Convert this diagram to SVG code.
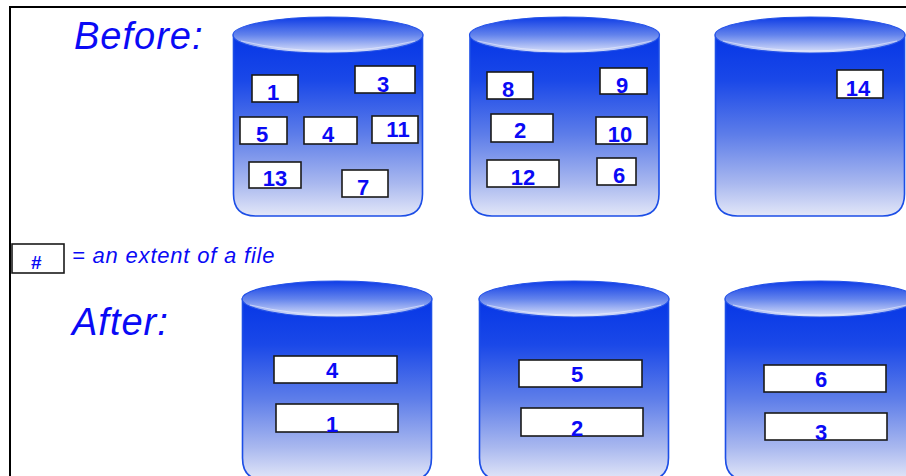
<svg xmlns="http://www.w3.org/2000/svg" xmlns:xlink="http://www.w3.org/1999/xlink" width="906" height="476" viewBox="0 0 906 476">
  <style>
    .title { font-family: "Liberation Sans", Arial, sans-serif; font-style: italic; font-size: 38px; letter-spacing: 1px; fill: #0a0af5; }
    .note { font-family: "Liberation Sans", Arial, sans-serif; font-style: italic; font-size: 22px; letter-spacing: 0.8px; fill: #0a0af5; }
    .num { font-family: "Liberation Sans", Arial, sans-serif; font-weight: bold; font-size: 22px; fill: #0a0af5; text-anchor: middle; }
    .hash { font-family: "Liberation Sans", Arial, sans-serif; font-weight: bold; font-style: italic; font-size: 19px; fill: #0a0af5; text-anchor: middle; }
    .ext { fill: #ffffff; stroke: #1a1a1a; stroke-width: 1.6; }
    .frame { fill: none; stroke: #000000; stroke-width: 2; }
  </style>
  <defs>
    <linearGradient id="bodyGrad" x1="0" y1="0" x2="0" y2="1">
      <stop offset="0" stop-color="#0636e6"/>
      <stop offset="0.25" stop-color="#1a48e8"/>
      <stop offset="0.55" stop-color="#5d7de9"/>
      <stop offset="0.82" stop-color="#a9b8ef"/>
      <stop offset="1" stop-color="#e3e7f8"/>
    </linearGradient>
    <linearGradient id="lidGrad" x1="0" y1="0" x2="0" y2="1">
      <stop offset="0" stop-color="#0e3ce6"/>
      <stop offset="0.5" stop-color="#6383ec"/>
      <stop offset="1" stop-color="#dfe5fa"/>
    </linearGradient>
    <!-- disk cylinder, 190 wide, lid centred at (95,18) -->
    <g id="disk">
      <path d="M0.5,18 L0.5,177 Q0.5,199 22.5,199 L167.5,199 Q189.5,199 189.5,177 L189.5,18 Z" fill="url(#bodyGrad)" stroke="#1c4ee6" stroke-width="1.6"/>
      <ellipse cx="95" cy="18" rx="95" ry="18" fill="url(#lidGrad)" stroke="#2452e8" stroke-width="1.2"/>
      <path d="M8,24 Q95,44 182,24" fill="none" stroke="#eef1ff" stroke-width="0.8" opacity="0.7"/>
    </g>
  </defs>

  <rect width="906" height="476" fill="#ffffff"/>

  <!-- frame -->
  <path class="frame" d="M10,480 L10,7 L910,7"/>

  <!-- headings -->
  <text class="title" x="74" y="49">Before:</text>
  <text class="title" x="72" y="335">After:</text>

  <!-- legend -->
  <g id="legend">
    <rect class="ext" x="12" y="244" width="52" height="29"/>
    <text class="hash" x="36" y="269">#</text>
    <text class="note" x="72" y="263">= an extent of a file</text>
  </g>

  <!-- disks before -->
  <g id="before-disk-1">
    <use xlink:href="#disk" href="#disk" transform="translate(233,17)"/>
    <rect class="ext" x="252" y="75" width="46" height="27"/><text class="num" x="273" y="100">1</text>
    <rect class="ext" x="355" y="66" width="60" height="27"/><text class="num" x="383" y="92">3</text>
    <rect class="ext" x="240" y="117" width="47" height="27"/><text class="num" x="262" y="142">5</text>
    <rect class="ext" x="304" y="117" width="53" height="27"/><text class="num" x="328" y="142">4</text>
    <rect class="ext" x="372" y="116" width="46" height="27"/><text class="num" x="398" y="137">11</text>
    <rect class="ext" x="249" y="162" width="52" height="26"/><text class="num" x="275" y="186">13</text>
    <rect class="ext" x="342" y="170" width="46" height="27"/><text class="num" x="363" y="195">7</text>
  </g>
  <g id="before-disk-2">
    <use xlink:href="#disk" href="#disk" transform="translate(469.5,17)"/>
    <rect class="ext" x="487" y="72" width="46" height="27"/><text class="num" x="508" y="97">8</text>
    <rect class="ext" x="600" y="68" width="47" height="26"/><text class="num" x="622" y="93">9</text>
    <rect class="ext" x="491" y="114" width="62" height="28"/><text class="num" x="520" y="138">2</text>
    <rect class="ext" x="596" y="117" width="51" height="27"/><text class="num" x="620" y="142">10</text>
    <rect class="ext" x="487" y="160" width="72" height="27"/><text class="num" x="523" y="185">12</text>
    <rect class="ext" x="597" y="158" width="39" height="27"/><text class="num" x="619" y="183">6</text>
  </g>
  <g id="before-disk-3">
    <use xlink:href="#disk" href="#disk" transform="translate(715,17)"/>
    <rect class="ext" x="837" y="70" width="46" height="28"/><text class="num" x="858" y="96">14</text>
  </g>

  <!-- disks after -->
  <g id="after-disk-1">
    <use xlink:href="#disk" href="#disk" transform="translate(242,281)"/>
    <rect class="ext" x="274" y="356" width="123" height="27"/><text class="num" x="332" y="378">4</text>
    <rect class="ext" x="276" y="404" width="122" height="28"/><text class="num" x="332" y="432">1</text>
  </g>
  <g id="after-disk-2">
    <use xlink:href="#disk" href="#disk" transform="translate(479,281)"/>
    <rect class="ext" x="519" y="360" width="123" height="27"/><text class="num" x="577" y="382">5</text>
    <rect class="ext" x="521" y="408" width="122" height="28"/><text class="num" x="577" y="436">2</text>
  </g>
  <g id="after-disk-3">
    <use xlink:href="#disk" href="#disk" transform="translate(725,281)"/>
    <rect class="ext" x="764" y="365" width="122" height="27"/><text class="num" x="821" y="387">6</text>
    <rect class="ext" x="765" y="413" width="122" height="27"/><text class="num" x="821" y="440">3</text>
  </g>

  <g id="connectors"/>
</svg>
